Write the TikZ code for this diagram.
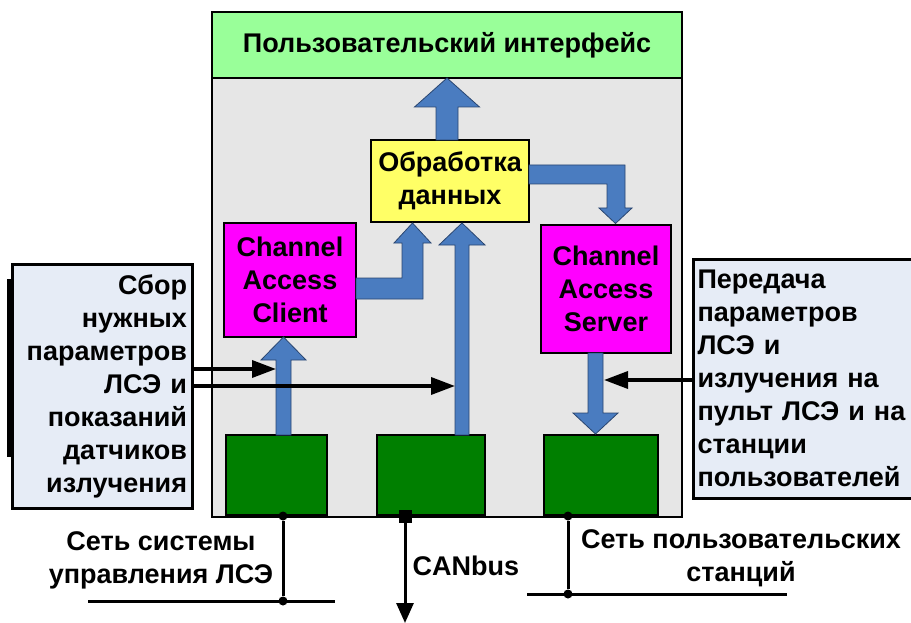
\documentclass[tikz,border=0pt]{standalone}
\usepackage{fontspec}
\setmainfont{Liberation Sans}
\usetikzlibrary{arrows.meta,calc}
\definecolor{bggray}{HTML}{E6E6E6}
\definecolor{hdrgreen}{HTML}{99FF99}
\definecolor{procyellow}{HTML}{FFFF66}
\definecolor{camag}{HTML}{FF00FF}
\definecolor{devgreen}{HTML}{007F00}
\definecolor{blkblue}{HTML}{4A7CC0}
\definecolor{blkedge}{HTML}{2A4670}
\definecolor{notefill}{HTML}{E6ECF6}
\begin{document}
\begin{tikzpicture}[x=1pt,y=-1pt,
  txt/.style={font=\fontsize{27}{33}\selectfont\bfseries},
  boxbase/.style={draw=black,line width=2pt,inner sep=0pt,txt,align=center},
  procbox/.style={boxbase,fill=procyellow},
  cabox/.style={boxbase,fill=camag},
  devbox/.style={boxbase,fill=devgreen},
  notebox/.style={draw=black,line width=3pt,fill=notefill,txt,inner ysep=0pt},
  blockarrow/.style={fill=blkblue,draw=blkedge,line width=0.8pt,line join=miter},
  sigarrow/.style={line width=3.5pt,-{Triangle[length=24pt,width=17pt]}},
  wire/.style={line width=3pt},
  dot/.style={circle,fill=black,inner sep=0pt,minimum size=9pt}]
\useasboundingbox (0,0) rectangle (911,623);

% frame and header
\node[draw=black,line width=2pt,fill=bggray,minimum width=470pt,minimum height=505pt,inner sep=0pt] (frame) at (447,264.5) {};
\node[boxbase,fill=hdrgreen,minimum width=470pt,minimum height=66pt] (hdr) at (447,45) {Пользовательский интерфейс};

% main blocks
\node[procbox,minimum width=158pt,minimum height=82pt] (proc) at (450,181) {Обработка\\данных};
\node[cabox,minimum width=132pt,minimum height=114pt] (client) at (290,280) {Channel\\Access\\Client};
\node[cabox,minimum width=130pt,minimum height=128pt] (server) at (606,289) {Channel\\Access\\Server};
\node[devbox,minimum width=101pt,minimum height=80pt] (g1) at (276.5,475) {};
\node[devbox,minimum width=108pt,minimum height=80pt] (g2) at (431,475) {};
\node[devbox,minimum width=114pt,minimum height=80pt] (g3) at (601,475) {};

% side notes
\fill[black] (7,279) rectangle (14,457);
\node[notebox,text width=170pt,inner xsep=5pt,align=right,minimum height=244pt] (lnote) at (102,386)
  {Сбор\\нужных\\параметров\\ЛСЭ и\\показаний\\датчиков\\излучения};
\node[notebox,text width=226pt,inner xsep=4pt,align=left,minimum height=239pt,anchor=west] (rnote) at (692,378.5)
  {Передача\\параметров\\ЛСЭ и\\излучения на\\пульт ЛСЭ и на\\станции\\пользователей};

% block arrows
\draw[blockarrow] (436,140) -- (436,107) -- (414.5,107) -- (447,78) -- (479.5,107) -- (458,107) -- (458,140) -- cycle;
\draw[blockarrow] (356,278) -- (402,278) -- (402,243) -- (394,243) -- (412.5,223) -- (431,243) -- (423,243) -- (423,299) -- (356,299) -- cycle;
\draw[blockarrow] (455,435) -- (455,245) -- (439,245) -- (462,223) -- (485,245) -- (469,245) -- (469,435) -- cycle;
\draw[blockarrow] (276,435) -- (276,360) -- (261,360) -- (283.5,337) -- (306,360) -- (291,360) -- (291,435) -- cycle;
\draw[blockarrow] (529,165) -- (625,165) -- (625,208) -- (632,208) -- (615.5,223.5) -- (599,208) -- (607,208) -- (607,184) -- (529,184) -- cycle;
\draw[blockarrow] (588,353) -- (603,353) -- (603,413) -- (618,413) -- (595.5,434) -- (573,413) -- (588,413) -- cycle;

% signal arrows
\coordinate (tclient) at (276,369);
\coordinate (tproc) at (455,386);
\coordinate (tserver) at (604,380);
\draw[sigarrow] (lnote.east |- tclient) -- (tclient);
\draw[sigarrow] (lnote.east |- tproc) -- (tproc);
\draw[sigarrow] (rnote.west |- tserver) -- (tserver);

% networks
\node[dot] (d1) at (283,516) {};
\node[dot] (d2) at (283,601) {};
\draw[wire] (d1) -- (d2);
\coordinate (n1l) at (88,601);
\coordinate (n1r) at (335,601);
\draw[wire] (n1l) -- (n1r);
\node[txt,align=center] (n1txt) at (161,560) {Сеть системы\\управления ЛСЭ};

\node[fill=black,minimum size=13pt,inner sep=0pt] (canport) at (405,516.5) {};
\coordinate (canend) at (405,623);
\draw[line width=3pt,-{Triangle[length=20pt,width=17pt]}] (canport) -- (canend);
\node[txt,anchor=west] (cantxt) at (409,566) {CANbus};

\node[dot] (d3) at (568,516) {};
\node[dot] (d4) at (568,594) {};
\draw[wire] (d3) -- (d4);
\coordinate (n2l) at (527,594);
\coordinate (n2r) at (787,594);
\draw[wire] (n2l) -- (n2r);
\node[txt,align=center] (n2txt) at (741,558) {Сеть пользовательских\\станций};
\end{tikzpicture}
\end{document}
